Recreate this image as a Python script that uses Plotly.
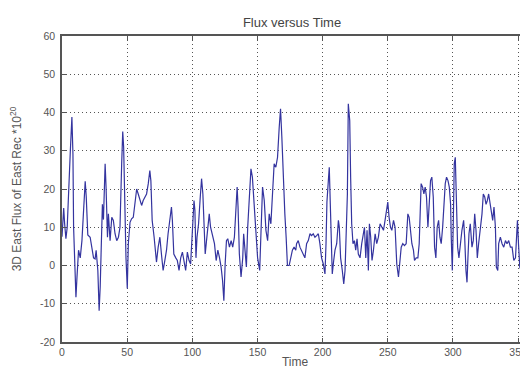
import plotly.graph_objects as go

time = [0, 1.3, 2, 3, 4, 5, 6.4, 7.6, 8.4, 8.9, 10.2, 10.7, 11.5, 12.7, 14, 15.3, 16.5, 17.8, 18.6, 19.8,
        21.6, 22.9, 24.2, 25.4, 26.2, 27.5, 28.5, 29.3, 30, 31, 31.8, 33.1, 33.8, 34.9, 35.6, 36.9, 38.2,
        39.4, 40.7, 42, 43.3, 44.5, 45.8, 46.6, 47.3, 48.3, 49.1, 50.1, 50.9, 52.2, 53.4, 54.7, 56, 57.3,
        58.5, 59.8, 61.1, 62.3, 63.6, 64.9, 66.2, 67.4, 68.2, 69.2, 70.7, 71.8, 72.5, 73.8, 75.1, 76.3,
        77.6, 78.9, 80.2, 81.4, 82.7, 84, 84.7, 85.8, 87.3, 88.5, 89.8, 91.1, 92.4, 93.6, 94.9, 96.2, 97.5,
        98.7, 99.7, 100.5, 101.3, 102, 102.8, 103.6, 104.8, 106.1, 107.1, 108.1, 108.9, 109.9, 110.9, 112,
        113, 114, 115, 116, 117, 118.3, 119.6, 120.9, 122.1, 123.2, 124.2, 125.2, 126.2, 127.2, 128.5,
        129.8, 131, 132.3, 133.3, 134.4, 135.1, 136.1, 137.4, 138.7, 139.4, 140.5, 141.5, 142.5, 143.8,
        145, 146.1, 147.1, 148.1, 149.1, 150.1, 151.7, 152.7, 153.9, 155.2, 156.5, 157.8, 159, 160.3,
        161.6, 162.8, 164.1, 165.4, 166.7, 167.7, 168.7, 169.7, 171, 172, 173, 174.3, 175.6, 176.8, 178.1,
        179.4, 180, 181.3, 182.6, 183.8, 185.1, 186.4, 187.7, 189, 190.3, 191.5, 192.8, 194.1, 195.4,
        196.7, 197.9, 199.2, 200.5, 201.8, 202.6, 203.3, 204.4, 205.1, 205.9, 206.7, 207.4, 208.5, 209.5,
        210.8, 212.1, 212.8, 213.8, 215.1, 216.2, 217.2, 218.2, 219, 219.7, 220.8, 221.5, 222.3, 223.3,
        224.4, 225.4, 226.4, 227.4, 228.7, 230, 231.3, 232.1, 233.1, 234.1, 235.1, 235.9, 236.9, 237.9,
        239, 240.3, 241.5, 242.8, 244.1, 245.4, 246.7, 247.9, 249.2, 250, 251, 252.1, 253.1, 254.4, 255.6,
        256.9, 258.2, 259.2, 260.3, 261.5, 262.8, 264.1, 265.4, 266.4, 267.4, 268.5, 269.7, 270.5, 271.8,
        273.1, 274.1, 274.9, 275.6, 276.7, 277.7, 278.7, 279.7, 280.8, 281.8, 282.8, 283.8, 284.9, 285.9,
        286.9, 287.9, 289, 290, 291, 292.1, 293.1, 294.1, 295.1, 296.2, 297.2, 298.2, 298.7, 299.5, 300.3,
        301, 301.8, 302.6, 303.6, 304.6, 305.6, 306.9, 308.2, 309, 310, 310.8, 311.5, 312.3, 313.3, 314.6,
        315.6, 316.7, 317.7, 318.7, 319.7, 321, 322.3, 323.3, 324.4, 325.4, 326.4, 327.4, 328.5, 329.5,
        330.5, 331.5, 332.6, 333.3, 334.4, 335.1, 336.4, 337.7, 339, 340.3, 341.5, 342.8, 344.1, 345.4,
        346.7, 348, 348.7, 349.5, 350.3, 351.3, 352.3, 353.1, 354.4, 355.6, 356.9, 358]

flux = [7.5, 15, 11, 7, 10, 20, 30, 38.8, 29, 10, -1.3, -8.3, -3, 4, 2, 6.5, 14, 22, 18, 8,
        7.4, 4.8, 2, 1.7, 4, -1.3, -11.8, -5.7, 5.7, 16, 12, 26.6, 20.5, 7.4, 13.5, 6.5, 12.6,
        11.8, 8.3, 6.5, 7.4, 10, 26.6, 35, 31, 12.6, 2, -6, 5.7, 11.3, 12.2, 12.6, 16, 20,
        18.7, 17, 15.7, 17, 17.9, 18.7, 21.4, 24.8, 22.2, 11.8, 7.4, 2, 0.9, 4.8, 7.4, 3,
        -1.3, 1.3, 4, 8.3, 12.6, 15.3, 11.8, 3, 2, 1.3, -1.3, 2, 3.5, 1.3, -1.3, 3.5, 1.3,
        0.4, 5.7, 11.8, 17, 14.4, 2, 7.4, 10.9, 17.9, 22.7, 18.7, 9.2, 3, 6.5, 10,
        13.5, 10, 8.3, 6.5, 5.7, 1.3, 4, 2, -0.4, -3.9, -9.2, 0.4, 6.5, 7, 4.8,
        6.5, 4.8, 7.4, 12.6, 20.5, 15.3, 3, -3, 2, 8.3, 4, -0.4, 10, 17.9,
        25.3, 23.1, 17.9, 10, 4.8, 2, -1.3, 9.2, 20.5, 17, 9.2, 6.5, 13.5, 10.9,
        21.4, 26.6, 25.7, 28.3, 36.2, 41, 33.6, 22.2, 13.5, 7.4, 0, 0, 2, 4, 4.8,
        4, 5.7, 6.5, 4.8, 4, 3, 2, 5.7, 6.5, 8.3, 7.8, 8.3, 7.4, 7.8,
        8.3, 5.7, 2, 0.4, -2.2, 5.7, 16.6, 22.2, 25.7, 16, 4, -2.2, 1.3, 4,
        5.7, 11.8, 10, 2, -1.3, -4.8, -1.3, 9.2, 18.7, 42.3, 37.9, 23.1, 10.9, 5.7,
        6.5, 4, 7, 3, 2, 5.7, 9.2, 10, 2, 9.2, -1.3, 10.9, 7.4, 1.3,
        4, 8.3, 5.7, 7.4, 10.9, 10, 9.2, 11.8, 14.4, 16.6, 12.6, 10, 9.2, 11.8, 10,
        0.4, -3, 0.4, 4.8, 5.7, 5.2, 5.7, 13.5, 12.6, 8.3, 5.7, 4, 1.3, 2,
        2, 5.7, 14.4, 21.4, 20.5, 18.7, 20.5, 17.9, 10, 16, 22.2, 23.1, 17.9, 4.8,
        2, 10, 11.8, 7.4, 5.7, 10, 17, 21.4, 23.1, 22.2, 20.5, 16, 7.4, -1.3, 11.8,
        26.6, 28.3, 16, 4.8, 2, 5.7, 9.2, 11.8, 7.4, -1.3, -4.4, 2, 8.3, 10.9, 4.8,
        6.5, 13.5, 9.2, 2, 5.7, 10, 13.5, 18.7, 17.9, 16, 17, 18.7, 16, 13.5,
        11.8, 15.3, 10, -0.4, -1.3, 5.7, 7.4, 5.7, 4.8, 6.5, 5.7, 6.5, 4.8, 4.8,
        1.3, 2, 6.5, 11.8, 5.7, -0.4, -1.3, 4.8, 4.8, 5.7, 6.5, 5]

x_ticks = [0, 50, 100, 150, 200, 250, 300, 350]
y_ticks = [-20, -10, 0, 10, 20, 30, 40, 50, 60]

fig = go.Figure()
fig.add_trace(go.Scatter(x=time, y=flux, mode="lines",
                         line=dict(color="#34349f", width=1.2)))

FAM = "Liberation Sans, Arial, sans-serif"
tick_font = dict(family=FAM, size=10.5, color="#555555")
label_font = dict(family=FAM, size=12, color="#555555")
# page body has an 8px default margin, so the figure is drawn 8px smaller
W, H = 520, 364
fig.update_layout(
    width=W, height=H,
    margin=dict(l=54, r=0, t=28, b=30, autoexpand=False),
    paper_bgcolor="white", plot_bgcolor="white",
    showlegend=False,
    font=tick_font,
    title=dict(text="Flux versus Time", x=284 / W, xanchor="center", xref="container",
               y=1 - 14 / H, yanchor="middle", yref="container",
               font=dict(family=FAM, size=13, color="#444444")),
)
grid_dash = "1px,3px"
fig.update_xaxes(range=[0, 357.6], tickvals=x_ticks, ticktext=[str(v) for v in x_ticks],
                 showgrid=True, gridcolor="#555555", griddash=grid_dash, gridwidth=1,
                 showline=True, linecolor="#555555", linewidth=1.5, mirror="ticks",
                 ticks="inside", ticklen=4, tickcolor="#555555", zeroline=False,
                 tickfont=tick_font, automargin=False,
                 title=dict(text="Time", standoff=0, font=label_font))
fig.update_yaxes(range=[-20, 60], tickvals=y_ticks, ticktext=[str(v) for v in y_ticks],
                 showgrid=True, gridcolor="#555555", griddash=grid_dash, gridwidth=1,
                 showline=True, linecolor="#555555", linewidth=1.5, mirror=False,
                 ticks="inside", ticklen=4, tickcolor="#555555", zeroline=False,
                 tickfont=tick_font, automargin=False, ticklabelstandoff=3,
                 title=dict(text="3D East Flux of East Rec *10<sup>20</sup>", standoff=18, font=label_font))

fig.write_html("out.html")
